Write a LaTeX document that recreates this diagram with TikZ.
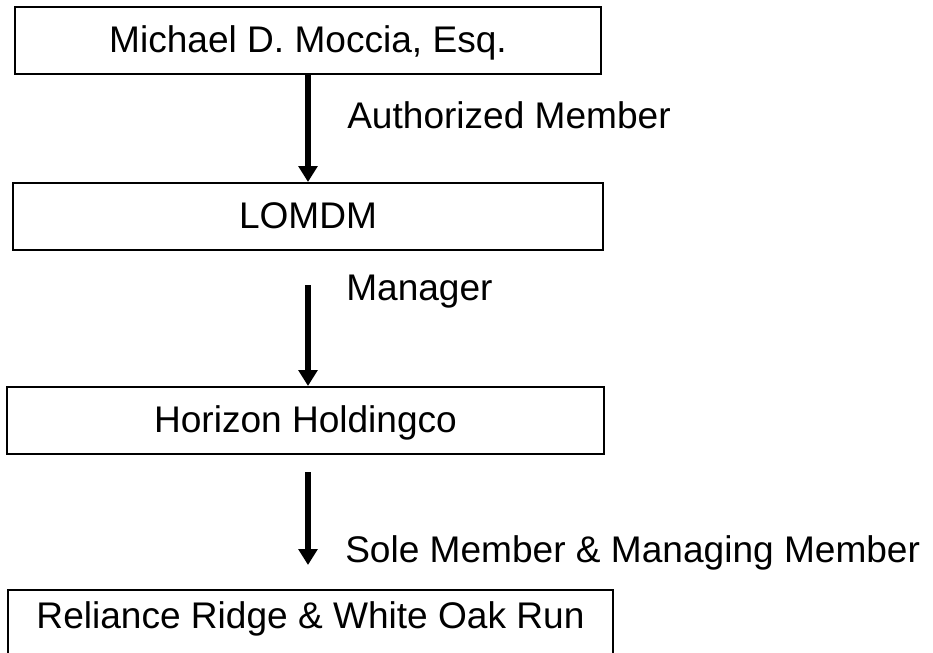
\documentclass[tikz,border=0pt]{standalone}
\usepackage{fontspec}
\setmainfont{Liberation Sans}
\usetikzlibrary{arrows.meta}

\begin{document}
\begin{tikzpicture}[x=0.75pt,y=-0.75pt,
    entity/.style={draw, line width=1.5pt, minimum height=50.25pt, inner sep=0pt,
        text height=18pt, text depth=0pt, font=\fontsize{27.8}{33}\selectfont},
    link/.style={line width=4.2pt, -{Triangle[length=12pt,width=14pt]}},
    rel/.style={anchor=base west, inner sep=0pt, font=\fontsize{27.8}{33}\selectfont}]
    \useasboundingbox (0,0) rectangle (933,653);

    % Entities
    \node[entity, minimum width=439.5pt] (moccia) at (308,40.5) {Michael D. Moccia, Esq.};
    \node[entity, minimum width=442.5pt] (lomdm) at (308,216.5) {LOMDM};
    \node[entity, minimum width=447.75pt] (horizon) at (305.5,420.5) {Horizon Holdingco};
    \node[entity, minimum width=453.75pt, text height=6.75pt] (reliance) at (310.5,623.5) {Reliance Ridge \& White Oak Run};

    % Arrow ends
    \coordinate (mgrtop) at (308,285);
    \coordinate (mgrend) at (308,386);
    \coordinate (soletop) at (308,472);
    \coordinate (soleend) at (308,565);

    % Links
    \draw[link] (moccia) -- (lomdm);
    \draw[link] (mgrtop) -- (mgrend);
    \draw[link] (soletop) -- (soleend);

    % Roles
    \node[rel] (authlbl) at (347,128) {Authorized Member};
    \node[rel] (mgrlbl) at (346,300) {Manager};
    \node[rel] (solelbl) at (345,562) {Sole Member \& Managing Member};
\end{tikzpicture}
\end{document}
